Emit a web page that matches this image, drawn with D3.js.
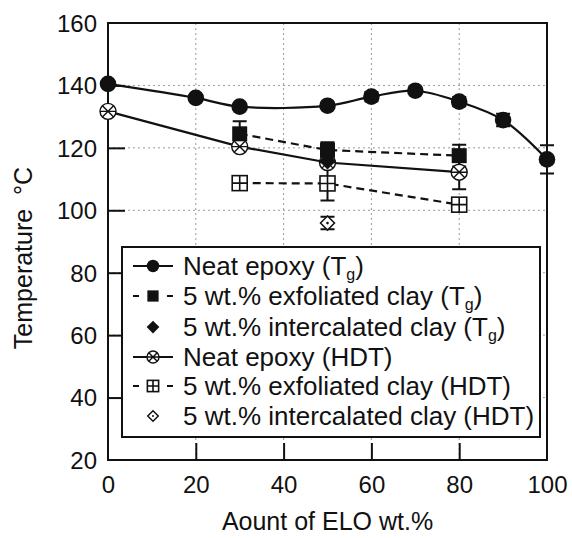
<!DOCTYPE html>
<html><head><meta charset="utf-8">
<script src="https://cdn.jsdelivr.net/npm/d3@7"></script>
<style>body{margin:0;background:#fff}svg{display:block}text{font-family:"Liberation Sans",Arial,Helvetica,sans-serif;fill:#111}</style>
</head><body><div id="c"></div>
<script>
// ---- data ----
const xTicks = [0, 20, 40, 60, 80, 100];
const yTicks = [20, 40, 60, 80, 100, 120, 140, 160];

const neatTgX = [0, 20, 30, 50, 60, 70, 80, 90, 100];
const neatTgY = [140.5, 136.0, 133.2, 133.5, 136.4, 138.3, 134.8, 128.9, 116.3];
const neatTgE = [0, 0, 0, 0, 1.5, 0, 1.5, 2, 4.5];

const exfTgX = [30, 50, 80];
const exfTgY = [124.5, 119.3, 117.5];
const exfTgE = [4, 2.5, 3.5];

const intTgX = [50];
const intTgY = [115.8];
const intTgE = [0];

const neatHdtX = [0, 30, 50, 80];
const neatHdtY = [131.7, 120.4, 115.3, 112.2];
const neatHdtE = [0, 0, 0, 5.5];

const exfHdtX = [30, 50, 80];
const exfHdtY = [108.7, 108.6, 101.8];
const exfHdtE = [0, 5.5, 1.5];

const intHdtX = [50];
const intHdtY = [95.9];
const intHdtE = [2];

const legendLabels = [
  ["Neat epoxy (T", "g", ")"],
  ["5 wt.% exfoliated clay (T", "g", ")"],
  ["5 wt.% intercalated clay (T", "g", ")"],
  ["Neat epoxy (HDT)"],
  ["5 wt.% exfoliated clay (HDT)"],
  ["5 wt.% intercalated clay (HDT)"]
];
const xTitle = "Aount of ELO wt.%";
const yTitle = "Temperature  \u00B0C";

// ---- layout ----
const W = 572, H = 538;
const L = 108, R = 547, T = 23, B = 460;
const svg = d3.select("#c").append("svg").attr("width", W).attr("height", H);
const x = d3.scaleLinear().domain([0, 100]).range([L, R]);
const y = d3.scaleLinear().domain([20, 160]).range([B, T]);

// grid
const grid = svg.append("g").attr("stroke", "#9a9a9a").attr("stroke-width", 1).attr("stroke-dasharray", "2,3");
xTicks.slice(1, -1).forEach(v => grid.append("line").attr("x1", x(v)).attr("x2", x(v)).attr("y1", T).attr("y2", B));
yTicks.slice(1, -1).forEach(v => grid.append("line").attr("x1", L).attr("x2", R).attr("y1", y(v)).attr("y2", y(v)));

// axes (ticks inward)
const ax = svg.append("g").attr("transform", `translate(0,${B})`)
  .call(d3.axisBottom(x).tickValues(xTicks).tickSizeInner(-17).tickSizeOuter(0).tickPadding(25));
const ay = svg.append("g").attr("transform", `translate(${L},0)`)
  .call(d3.axisLeft(y).tickValues(yTicks).tickSizeInner(-17).tickSizeOuter(0).tickPadding(28));
[ax, ay].forEach(g => {
  g.select(".domain").remove();
  g.selectAll("line").attr("stroke", "#111").attr("stroke-width", 2);
  g.selectAll("text").attr("font-size", 24).attr("fill", "#111").style("font-family", '"Liberation Sans",Arial,sans-serif');
});
ax.selectAll(".tick").filter(d => d === 0 || d === 100).select("line").remove();
ay.selectAll(".tick").filter(d => d === 20 || d === 160).select("line").remove();
ay.selectAll("text").attr("x", -11).attr("dy", "0.35em");
ax.selectAll("text").attr("y", 16).attr("dy", "0.71em");
// frame
svg.append("rect").attr("x", L).attr("y", T).attr("width", R - L).attr("height", B - T)
  .attr("fill", "none").attr("stroke", "#111").attr("stroke-width", 2);

// titles
svg.append("text").attr("x", (L + R) / 2).attr("y", 530).attr("text-anchor", "middle").attr("font-size", 25).text(xTitle);
svg.append("text").attr("transform", "translate(32,258) rotate(-90)").attr("text-anchor", "middle").attr("font-size", 25)
  .style("white-space", "pre").text(yTitle);

// ---- marker drawing ----
function marker(g, type, cx, cy, s) {
  const k = s || 1;
  if (type === "circleF") {
    g.append("circle").attr("cx", cx).attr("cy", cy).attr("r", 8.3 * k).attr("fill", "#111");
  } else if (type === "squareF") {
    const a = 15 * k;
    g.append("rect").attr("x", cx - a / 2).attr("y", cy - a / 2).attr("width", a).attr("height", a).attr("fill", "#111");
  } else if (type === "diamondF") {
    const a = 8.5 * k;
    g.append("path").attr("d", `M${cx},${cy - a}L${cx + a},${cy}L${cx},${cy + a}L${cx - a},${cy}Z`).attr("fill", "#111");
  } else if (type === "circleX") {
    const r = 8 * k, d = r * 0.7;
    g.append("circle").attr("cx", cx).attr("cy", cy).attr("r", r).attr("fill", "#fff").attr("stroke", "#111").attr("stroke-width", 1.4);
    g.append("path").attr("d", `M${cx - d},${cy - d}L${cx + d},${cy + d}M${cx - d},${cy + d}L${cx + d},${cy - d}M${cx - r},${cy}L${cx + r},${cy}`)
      .attr("stroke", "#111").attr("stroke-width", 1.4).attr("fill", "none");
  } else if (type === "squarePlus") {
    const a = 15 * k;
    g.append("rect").attr("x", cx - a / 2).attr("y", cy - a / 2).attr("width", a).attr("height", a).attr("fill", "#fff").attr("stroke", "#111").attr("stroke-width", 1.6);
    g.append("path").attr("d", `M${cx - a / 2},${cy}L${cx + a / 2},${cy}M${cx},${cy - a / 2}L${cx},${cy + a / 2}`)
      .attr("stroke", "#111").attr("stroke-width", 1.6);
  } else if (type === "diamondO") {
    const a = 7 * k;
    g.append("path").attr("d", `M${cx},${cy - a}L${cx + a},${cy}L${cx},${cy + a}L${cx - a},${cy}Z`).attr("fill", "#fff").attr("stroke", "#111").attr("stroke-width", 1.5);
    g.append("circle").attr("cx", cx).attr("cy", cy).attr("r", 1.3 * k).attr("fill", "#111");
  }
}

function errBars(g, xs, ys, es) {
  xs.forEach((xv, i) => {
    if (!es[i]) return;
    const cx = x(xv), y1 = y(ys[i] + es[i]), y2 = y(ys[i] - es[i]);
    g.append("path").attr("d", `M${cx},${y1}L${cx},${y2}M${cx - 7},${y1}L${cx + 7},${y1}M${cx - 7},${y2}L${cx + 7},${y2}`)
      .attr("stroke", "#111").attr("stroke-width", 2).attr("fill", "none");
  });
}

const series = [
  { xs: neatTgX, ys: neatTgY, es: neatTgE, m: "circleF", line: "solid", curve: d3.curveCatmullRom.alpha(0.5) },
  { xs: exfTgX, ys: exfTgY, es: exfTgE, m: "squareF", line: "dash", curve: d3.curveLinear },
  { xs: intTgX, ys: intTgY, es: intTgE, m: "diamondF", line: null },
  { xs: neatHdtX, ys: neatHdtY, es: neatHdtE, m: "circleX", line: "solid", curve: d3.curveLinear },
  { xs: exfHdtX, ys: exfHdtY, es: exfHdtE, m: "squarePlus", line: "dash", curve: d3.curveLinear },
  { xs: intHdtX, ys: intHdtY, es: intHdtE, m: "diamondO", line: null }
];

const gl = svg.append("g");
series.forEach(s => {
  if (!s.line) return;
  const pts = s.xs.map((v, i) => [v, s.ys[i]]);
  gl.append("path").attr("d", d3.line().x(d => x(d[0])).y(d => y(d[1])).curve(s.curve)(pts))
    .attr("fill", "none").attr("stroke", "#111").attr("stroke-width", 2.2)
    .attr("stroke-dasharray", s.line === "dash" ? "8,5" : null);
});
const ge = svg.append("g");
series.forEach(s => errBars(ge, s.xs, s.ys, s.es));
const gm = svg.append("g");
// draw HDT first, Tg on top
[3, 4, 5, 0, 1, 2].forEach(i => {
  const s = series[i];
  s.xs.forEach((v, j) => marker(gm, s.m, x(v), y(s.ys[j])));
});

// ---- legend ----
const lg = svg.append("g");
lg.append("rect").attr("x", 122).attr("y", 247).attr("width", 418).attr("height", 190)
  .attr("fill", "#fff").attr("stroke", "#111").attr("stroke-width", 2);
const rowY = [266, 296, 327, 357, 386, 416];
series.forEach((s, i) => {
  const cy = rowY[i];
  if (s.line === "solid") {
    lg.append("line").attr("x1", 133).attr("x2", 173).attr("y1", cy).attr("y2", cy).attr("stroke", "#111").attr("stroke-width", 2.2);
  } else if (s.line === "dash") {
    lg.append("path").attr("d", `M133,${cy}L139,${cy}M167,${cy}L173,${cy}`).attr("stroke", "#111").attr("stroke-width", 2.2);
  }
  marker(lg, s.m, 153, cy, 0.75);
  const t = lg.append("text").attr("x", 183).attr("y", cy + 9).attr("font-size", 26);
  const parts = legendLabels[i];
  t.append("tspan").text(parts[0]);
  if (parts.length > 1) {
    t.append("tspan").attr("font-size", 16).attr("dy", 5).text(parts[1]);
    t.append("tspan").attr("dy", -5).text(parts[2]);
  }
});
</script>
</body></html>
